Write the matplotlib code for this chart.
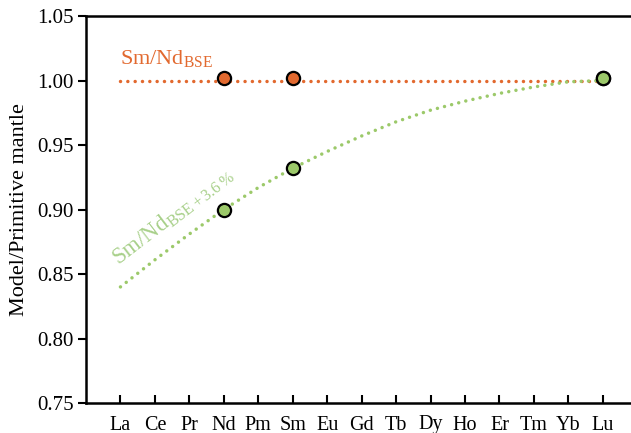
import matplotlib
matplotlib.use("Agg")
import matplotlib.pyplot as plt
import numpy as np

plt.rcParams['font.family'] = ['Liberation Serif', 'DejaVu Serif']
plt.rcParams['mathtext.fontset'] = 'custom'
plt.rcParams['mathtext.rm'] = 'Liberation Serif'

ree = ["La", "Ce", "Pr", "Nd", "Pm", "Sm", "Eu", "Gd", "Tb", "Dy", "Ho", "Er", "Tm", "Yb", "Lu"]
bse_line = [0.9995] * 15
plus_line = [0.840, 0.861, 0.881, 0.900, 0.917, 0.932, 0.945, 0.957, 0.968,
             0.977, 0.984, 0.990, 0.995, 0.999, 1.000]
pt_elems = ["Nd", "Sm", "Lu"]
bse_pts = [1.002, 1.002, 1.002]
plus_pts = [0.900, 0.932, 1.002]

orange = "#E2692F"
green = "#9CC96A"
green_txt = "#A8D08A"

fig = plt.figure(figsize=(6.31, 4.33), dpi=100)
ax = fig.add_axes([86/631, 1 - 403/433, 1 - 86/631 + 0.01, (403 - 16)/433])

x = np.arange(len(ree))
idx = [ree.index(e) for e in pt_elems]

ax.plot(x, bse_line, color=orange, lw=2.5, linestyle=(0, (0.01, 2.1)),
        dash_capstyle='round', zorder=2)
ax.plot(x, plus_line, color=green, lw=2.5, linestyle=(0, (0.01, 2.1)),
        dash_capstyle='round', zorder=2)
ax.plot(idx, bse_pts, 'o', ms=9.5, mfc=orange, mec='black', mew=1.6, zorder=3)
ax.plot(idx, plus_pts, 'o', ms=9.5, mfc=green, mec='black', mew=1.6, zorder=4)

ax.set_xlim(-1, 15)
ax.set_ylim(0.75, 1.05)
ax.set_xticks(x)
ax.set_xticklabels(ree, fontsize=14.5)
ax.set_yticks([0.75, 0.80, 0.85, 0.90, 0.95, 1.00, 1.05])
ax.set_yticklabels(["0.75", "0.80", "0.85", "0.90", "0.95", "1.00", "1.05"], fontsize=15)
ax.tick_params(axis='y', direction='out', length=6, width=1.5, pad=3)
ax.tick_params(axis='x', direction='in', length=6, width=1.5, pad=9)
for s in ['left', 'bottom', 'top']:
    ax.spines[s].set_linewidth(1.8)
ax.spines['right'].set_visible(False)
ax.set_ylabel("Model/Primitive mantle", fontsize=16, labelpad=6)

ax.text(0, 1.008, r"Sm/Nd$_{\mathrm{BSE}}$", color=orange, fontsize=16,
        ha='left', va='bottom')
ax.text(0.05, 0.853, r"Sm/Nd$_{\mathrm{BSE}\,{+}\,3.6\,\%}$", color=green_txt, fontsize=16.5,
        rotation=37.5, rotation_mode='anchor', ha='left', va='bottom')

fig.savefig("out.png", dpi=100)
